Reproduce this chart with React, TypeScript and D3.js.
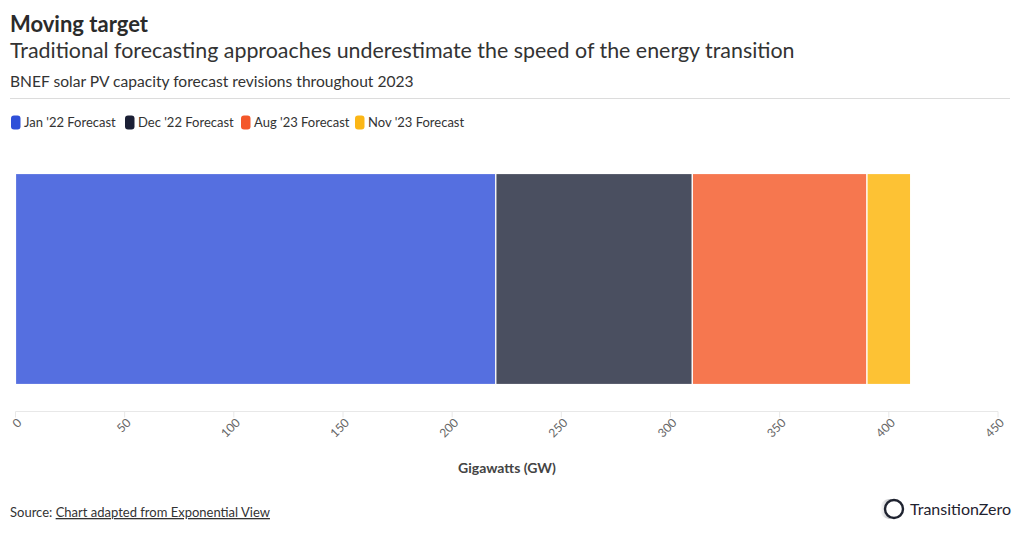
import React from "react";
import * as d3 from "d3";

const seriesNames = ["Jan '22 Forecast", "Dec '22 Forecast", "Aug '23 Forecast", "Nov '23 Forecast"];
const seriesValues = [220, 90, 80, 20];
const legendColors = ["#2f50d9", "#1b1f35", "#f4572a", "#fbb616"];
const barColors = ["#556fe0", "#4a4f60", "#f6774f", "#fdc234"];
const xTicks = [0, 50, 100, 150, 200, 250, 300, 350, 400, 450];

const W = 1020;
const H = 535;
const FONT = "'Source Sans Pro', Lato, 'Open Sans', sans-serif";

export default function App() {
  const x = d3.scaleLinear().domain([0, 450]).range([15.5, 998]);
  const y = d3.scaleBand().domain(["solar"]).range([164, 394]).paddingInner(0).paddingOuter(0.045);
  const stacked = d3.stack<any>().keys(seriesNames)([
    Object.fromEntries(seriesNames.map((n, i) => [n, seriesValues[i]])),
  ]);

  const legendX = [10, 124, 240, 354];

  return (
    <svg width={W} height={H} style={{ position: "absolute", left: 0, top: 0, fontFamily: FONT }}>
      <defs>
        <linearGradient id="fuzz" x1="0" x2="1" y1="0" y2="0">
          <stop offset="0" stopColor="#1f2330" stopOpacity={0} />
          <stop offset="1" stopColor="#1f2330" stopOpacity={0.55} />
        </linearGradient>
      </defs>
      <rect width={W} height={H} fill="#fff" />
      <text x={10} y={32} fontSize={22} fontWeight={700} fill="#2b2b2b">Moving target</text>
      <text x={10} y={58} fontSize={21.4} fill="#333">
        Traditional forecasting approaches underestimate the speed of the energy transition
      </text>
      <text x={10} y={87} fontSize={15.6} fill="#333">BNEF solar PV capacity forecast revisions throughout 2023</text>
      <line x1={10} x2={1010} y1={98.5} y2={98.5} stroke="#dcdcdc" />

      {seriesNames.map((n, i) => (
        <g key={n} transform={`translate(${legendX[i]},0)`}>
          <rect x={1} y={115.5} width={9.5} height={14} rx={3} fill={legendColors[i]} />
          <text x={14} y={127} fontSize={13} fill="#333">{n}</text>
        </g>
      ))}

      {stacked.map((s, i) => (
        <rect
          key={seriesNames[i]}
          x={x(s[0][0])}
          y={y("solar")}
          width={x(s[0][1]) - x(s[0][0])}
          height={y.bandwidth()}
          fill={barColors[i]}
          stroke="#fff"
          strokeWidth={1.2}
        />
      ))}

      <line x1={x(0)} x2={x(450)} y1={411.5} y2={411.5} stroke="#e8e8e8" />
      {xTicks.map((t) => (
        <g key={t} transform={`translate(${x(t)},411.5)`}>
          <line y1={0} y2={6} stroke="#e8e8e8" />
          <text
            transform={`translate(7,12) rotate(-45)`}
            textAnchor="end"
            fontSize={12}
            fill="#666"
          >
            {t}
          </text>
        </g>
      ))}
      <text x={507} y={473} textAnchor="middle" fontSize={14} fontWeight={700} fill="#444">Gigawatts (GW)</text>

      <text x={10} y={517} fontSize={13} fill="#333">
        Source: <tspan textDecoration="underline" style={{ textDecoration: "underline" }}>Chart adapted from Exponential View</tspan>
      </text>

      <g>
        <ellipse cx={889} cy={509} rx={9} ry={10} fill="url(#fuzz)" />
        <circle cx={894} cy={509} r={9} fill="#fff" stroke="#1f2330" strokeWidth={2.4} />
        <text x={910} y={515} fontSize={16} fill="#1f2330">TransitionZero</text>
      </g>
    </svg>
  );
}
